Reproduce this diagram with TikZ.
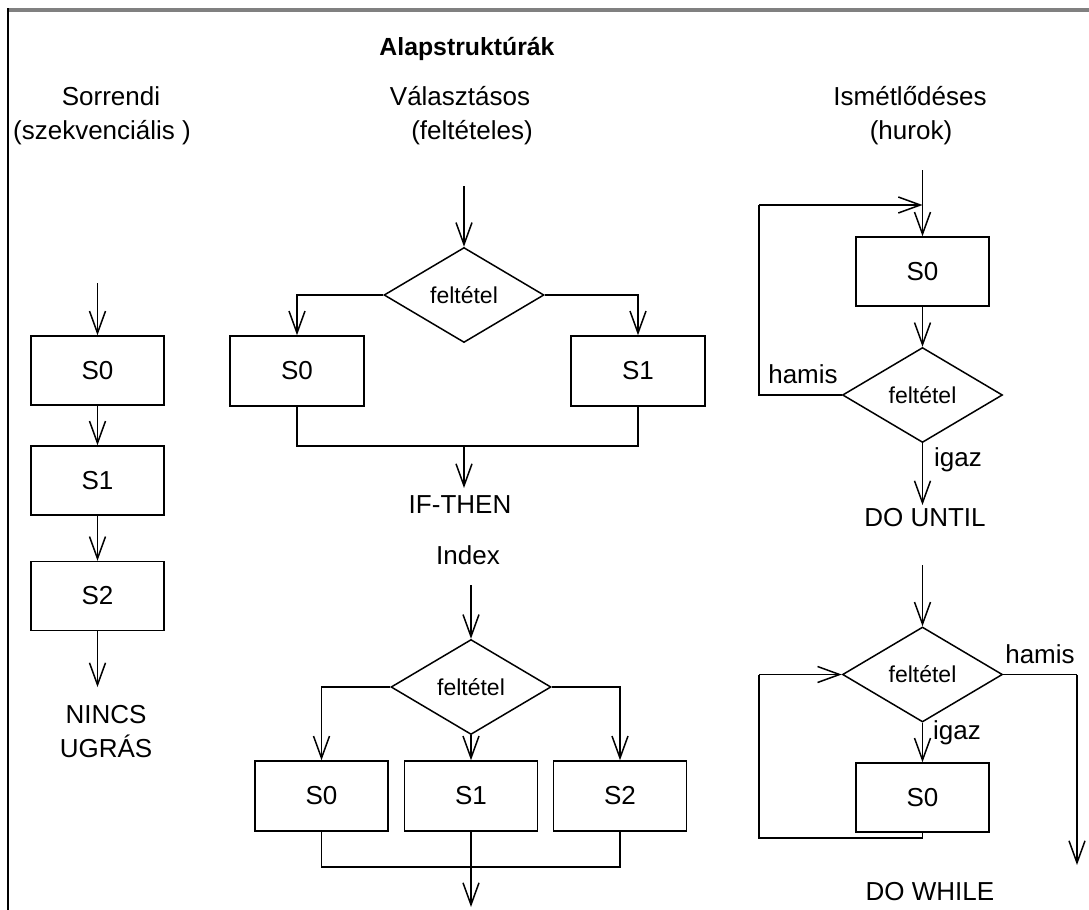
\documentclass[tikz,border=0pt]{standalone}
\usepackage{fontspec}
\setmainfont{Liberation Sans}
\usetikzlibrary{arrows.meta,shapes.geometric}
\definecolor{framegray}{HTML}{808080}
\begin{document}
\begin{tikzpicture}[x=0.5pt,y=-0.5pt,
  txt/.style={font=\fontsize{13pt}{15pt}\selectfont, inner sep=0pt, anchor=base},
  blk/.style={draw, line width=0.75pt, minimum width=66.5pt, minimum height=34.5pt,
    inner sep=0pt, font=\fontsize{13pt}{15pt}\selectfont},
  cond/.style={draw, diamond, line width=0.75pt, minimum width=80pt, minimum height=47.5pt,
    inner sep=0pt, font=\fontsize{11.5pt}{13pt}\selectfont},
  flow/.style={line width=0.75pt, -{Straight Barb[length=11pt,width=8pt]}},
  wire/.style={line width=0.75pt}]

% canvas and frame
\fill[white] (0,0) rectangle (1089,910);
\useasboundingbox (0,0) rectangle (1089,910);
\fill[framegray] (7,8) rectangle (1089,11.5);
\fill[black] (6.5,8) rectangle (8.5,910);

% headings
\node[txt, font=\bfseries\fontsize{12.4pt}{14pt}\selectfont] (title) at (467,55) {Alapstruktúrák};
\node[txt] (h1a) at (111,105) {Sorrendi};
\node[txt] (h1b) at (102,139) {(szekvenciális )};
\node[txt] (h2a) at (460,105) {Választásos};
\node[txt] (h2b) at (472,139) {(feltételes)};
\node[txt] (h3a) at (910,105) {Ismétlődéses};
\node[txt] (h3b) at (911,139) {(hurok)};

% ---- sequence ----
\coordinate (sin) at (97.5,283);
\node[blk] (s0) at (97.5,370.5) {S0};
\node[blk] (s1) at (97.5,480.5) {S1};
\node[blk] (s2) at (97.5,596) {S2};
\coordinate (sout) at (97.5,687);
\draw[flow] (sin) -- (s0.north);
\draw[flow] (s0.south) -- (s1.north);
\draw[flow] (s1.south) -- (s2.north);
\draw[flow] (s2.south) -- (sout);
\node[txt] (nincs) at (106,723) {NINCS};
\node[txt] (ugras) at (106,757) {UGRÁS};

% ---- IF-THEN ----
\coordinate (ain) at (464,186);
\node[cond] (da) at (464,295) {feltétel};
\node[blk, minimum width=67pt, minimum height=35pt] (a0) at (297,371) {S0};
\node[blk, minimum width=67pt, minimum height=35pt] (a1) at (638,371) {S1};
\coordinate (amerge) at (464,446);
\coordinate (aout) at (464,488);
\draw[flow] (ain) -- (da.north);
\draw[flow] (da.west) -| (a0.north);
\draw[flow] (da.east) -| (a1.north);
\draw[wire] (a0.south) |- (amerge) -| (a1.south);
\draw[flow] (amerge) -- (aout);
\node[txt] (ifthen) at (460,513) {IF-THEN};

% ---- index (case) ----
\node[txt] (index) at (468,564) {Index};
\coordinate (bin) at (471,585);
\node[cond] (db) at (471,687) {feltétel};
\node[blk, minimum width=66.5pt, minimum height=35pt] (b0) at (321.5,796) {S0};
\node[blk, minimum width=66.5pt, minimum height=35pt] (b1) at (471,796) {S1};
\node[blk, minimum width=66.5pt, minimum height=35pt] (b2) at (620,796) {S2};
\coordinate (bmerge) at (471,867);
\coordinate (bout) at (471,907);
\draw[flow] (bin) -- (db.north);
\draw[flow] (db.west) -| (b0.north);
\draw[flow] (db.south) -- (b1.north);
\draw[flow] (db.east) -| (b2.north);
\draw[wire] (b0.south) |- (bmerge) -| (b2.south);
\draw[flow] (b1.south) -- (bout);

% ---- DO UNTIL ----
\coordinate (cin) at (922.5,170);
\coordinate (cjoin) at (922.5,205);
\node[blk] (c0) at (922.5,271.5) {S0};
\node[cond] (dc) at (922.5,395) {feltétel};
\coordinate (cturn) at (759,395);
\coordinate (ctop) at (759,205);
\coordinate (cout) at (922.5,505);
\draw[flow] (cin) -- (c0.north);
\draw[wire] (dc.west) -- (cturn) -- (ctop);
\draw[flow] (ctop) -- (cjoin);
\draw[flow] (c0.south) -- (dc.north);
\draw[flow] (dc.south) -- (cout);
\node[txt] (chamis) at (803,383) {hamis};
\node[txt] (cigaz) at (958,466) {igaz};
\node[txt] (dountil) at (925,526) {DO UNTIL};

% ---- DO WHILE ----
\coordinate (din) at (922.5,565);
\node[cond] (dd) at (922.5,674.5) {feltétel};
\node[blk] (d0) at (922.5,797.5) {S0};
\coordinate (dstub) at (922.5,838);
\coordinate (dcorner) at (759,838);
\coordinate (dleft) at (759,674.5);
\coordinate (dright) at (1077,674.5);
\coordinate (dout) at (1077,865);
\draw[flow] (din) -- (dd.north);
\draw[flow] (dd.south) -- (d0.north);
\draw[wire] (d0.south) -- (dstub) -- (dcorner) -- (dleft);
\draw[flow] (dleft) -- (dd.west);
\draw[wire] (dd.east) -- (dright);
\draw[flow] (dright) -- (dout);
\node[txt] (dhamis) at (1040,663) {hamis};
\node[txt] (digaz) at (957,739) {igaz};
\node[txt] (dowhile) at (930,900) {DO WHILE};

\end{tikzpicture}
\end{document}
